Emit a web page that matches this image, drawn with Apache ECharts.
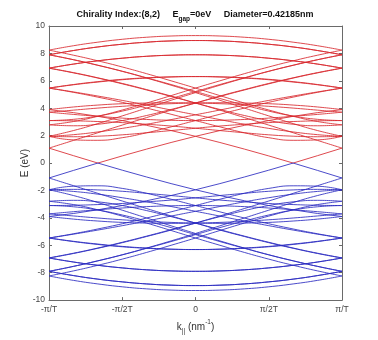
<!DOCTYPE html>
<html>
<head>
<meta charset="utf-8">
<script src="https://cdn.jsdelivr.net/npm/echarts@6/dist/echarts.min.js"></script>
<style>
  html, body { margin: 0; padding: 0; background: #fff; }
  #chart { width: 378px; height: 340px; }
</style>
</head>
<body>
<div id="chart"></div>
<script>
// Wave vector along the tube axis, in units of pi/T
const kValues = [-1, -0.8333, -0.6667, -0.5, -0.3333, -0.1667, 0, 0.1667, 0.3333, 0.5, 0.6667, 0.8333, 1];
const kTickValues = [-1, -0.5, 0, 0.5, 1];
const kTickNames = ['-π/T', '-π/2T', '0', 'π/2T', 'π/T'];

// Conduction subbands (eV), one per cutting line mu = 0..27
const cb0  = [8.24, 8.56, 8.82, 9.03, 9.18, 9.27, 9.30, 9.27, 9.18, 9.03, 8.82, 8.56, 8.24];
const cb1  = [7.90, 8.21, 8.47, 8.67, 8.82, 8.91, 8.94, 8.91, 8.82, 8.67, 8.47, 8.21, 7.90];
const cb2  = [6.92, 7.22, 7.46, 7.65, 7.79, 7.87, 7.90, 7.87, 7.79, 7.65, 7.46, 7.22, 6.93];
const cb3  = [5.47, 5.73, 5.94, 6.11, 6.22, 6.29, 6.31, 6.28, 6.20, 6.08, 5.91, 5.71, 5.47];
const cb4  = [3.90, 4.09, 4.23, 4.33, 4.38, 4.40, 4.38, 4.33, 4.25, 4.14, 4.01, 3.86, 3.71];
const cb5  = [3.10, 3.08, 3.03, 2.95, 2.83, 2.70, 2.54, 2.37, 2.21, 2.06, 1.96, 1.92, 1.95];
const cb6  = [3.90, 3.68, 3.41, 3.10, 2.75, 2.37, 1.95, 1.50, 1.02, 0.52, 0.00, 0.54, 1.09];
const cb7  = [5.47, 5.16, 4.81, 4.43, 4.01, 3.56, 3.10, 2.64, 2.21, 1.85, 1.66, 1.69, 1.95];
const cb8  = [6.92, 6.58, 6.20, 5.78, 5.33, 4.86, 4.38, 3.91, 3.47, 3.10, 2.83, 2.72, 2.79];
const cb9  = [7.90, 7.54, 7.14, 6.70, 6.22, 5.73, 5.22, 4.71, 4.23, 3.79, 3.43, 3.19, 3.10];
const cb10 = [8.24, 7.87, 7.46, 7.01, 6.52, 6.00, 5.47, 4.92, 4.38, 3.87, 3.41, 3.03, 2.79];
const cb11 = [7.90, 7.54, 7.13, 6.69, 6.20, 5.68, 5.14, 4.58, 4.01, 3.44, 2.88, 2.37, 1.95];
const cb12 = [6.93, 6.60, 6.22, 5.81, 5.36, 4.89, 4.38, 3.86, 3.32, 2.77, 2.21, 1.65, 1.09];
const cb13 = [5.47, 5.19, 4.89, 4.57, 4.23, 3.87, 3.52, 3.17, 2.83, 2.53, 2.27, 2.07, 1.95];
const cb14 = [3.71, 3.55, 3.41, 3.28, 3.18, 3.12, 3.10, 3.12, 3.18, 3.28, 3.41, 3.55, 3.71];
const cb15 = [1.95, 2.07, 2.27, 2.53, 2.83, 3.17, 3.52, 3.87, 4.23, 4.57, 4.89, 5.19, 5.47];
const cb16 = [1.09, 1.65, 2.21, 2.77, 3.32, 3.86, 4.38, 4.89, 5.36, 5.81, 6.22, 6.60, 6.93];
const cb17 = [1.95, 2.37, 2.88, 3.44, 4.01, 4.58, 5.14, 5.68, 6.20, 6.69, 7.13, 7.54, 7.90];
const cb18 = [2.79, 3.03, 3.41, 3.87, 4.38, 4.92, 5.47, 6.00, 6.52, 7.01, 7.46, 7.87, 8.24];
const cb19 = [3.10, 3.19, 3.43, 3.79, 4.23, 4.71, 5.22, 5.73, 6.22, 6.70, 7.14, 7.54, 7.90];
const cb20 = [2.79, 2.72, 2.83, 3.10, 3.47, 3.91, 4.38, 4.86, 5.33, 5.78, 6.20, 6.58, 6.92];
const cb21 = [1.95, 1.69, 1.66, 1.85, 2.21, 2.64, 3.10, 3.56, 4.01, 4.43, 4.81, 5.16, 5.47];
const cb22 = [1.09, 0.54, 0.00, 0.52, 1.02, 1.50, 1.95, 2.37, 2.75, 3.10, 3.41, 3.68, 3.90];
const cb23 = [1.95, 1.92, 1.96, 2.06, 2.21, 2.37, 2.54, 2.70, 2.83, 2.95, 3.03, 3.08, 3.10];
const cb24 = [3.71, 3.86, 4.01, 4.14, 4.25, 4.33, 4.38, 4.40, 4.38, 4.33, 4.23, 4.09, 3.90];
const cb25 = [5.47, 5.71, 5.91, 6.08, 6.20, 6.28, 6.31, 6.29, 6.22, 6.11, 5.94, 5.73, 5.47];
const cb26 = [6.93, 7.22, 7.46, 7.65, 7.79, 7.87, 7.90, 7.87, 7.79, 7.65, 7.46, 7.22, 6.92];
const cb27 = [7.90, 8.21, 8.47, 8.67, 8.82, 8.91, 8.94, 8.91, 8.82, 8.67, 8.47, 8.21, 7.90];

// Valence subbands (eV)
const vb0  = [-8.24, -8.56, -8.82, -9.03, -9.18, -9.27, -9.30, -9.27, -9.18, -9.03, -8.82, -8.56, -8.24];
const vb1  = [-7.90, -8.21, -8.47, -8.67, -8.82, -8.91, -8.94, -8.91, -8.82, -8.67, -8.47, -8.21, -7.90];
const vb2  = [-6.92, -7.22, -7.46, -7.65, -7.79, -7.87, -7.90, -7.87, -7.79, -7.65, -7.46, -7.22, -6.93];
const vb3  = [-5.47, -5.73, -5.94, -6.11, -6.22, -6.29, -6.31, -6.28, -6.20, -6.08, -5.91, -5.71, -5.47];
const vb4  = [-3.90, -4.09, -4.23, -4.33, -4.38, -4.40, -4.38, -4.33, -4.25, -4.14, -4.01, -3.86, -3.71];
const vb5  = [-3.10, -3.08, -3.03, -2.95, -2.83, -2.70, -2.54, -2.37, -2.21, -2.06, -1.96, -1.92, -1.95];
const vb6  = [-3.90, -3.68, -3.41, -3.10, -2.75, -2.37, -1.95, -1.50, -1.02, -0.52, 0.00, -0.54, -1.09];
const vb7  = [-5.47, -5.16, -4.81, -4.43, -4.01, -3.56, -3.10, -2.64, -2.21, -1.85, -1.66, -1.69, -1.95];
const vb8  = [-6.92, -6.58, -6.20, -5.78, -5.33, -4.86, -4.38, -3.91, -3.47, -3.10, -2.83, -2.72, -2.79];
const vb9  = [-7.90, -7.54, -7.14, -6.70, -6.22, -5.73, -5.22, -4.71, -4.23, -3.79, -3.43, -3.19, -3.10];
const vb10 = [-8.24, -7.87, -7.46, -7.01, -6.52, -6.00, -5.47, -4.92, -4.38, -3.87, -3.41, -3.03, -2.79];
const vb11 = [-7.90, -7.54, -7.13, -6.69, -6.20, -5.68, -5.14, -4.58, -4.01, -3.44, -2.88, -2.37, -1.95];
const vb12 = [-6.93, -6.60, -6.22, -5.81, -5.36, -4.89, -4.38, -3.86, -3.32, -2.77, -2.21, -1.65, -1.09];
const vb13 = [-5.47, -5.19, -4.89, -4.57, -4.23, -3.87, -3.52, -3.17, -2.83, -2.53, -2.27, -2.07, -1.95];
const vb14 = [-3.71, -3.55, -3.41, -3.28, -3.18, -3.12, -3.10, -3.12, -3.18, -3.28, -3.41, -3.55, -3.71];
const vb15 = [-1.95, -2.07, -2.27, -2.53, -2.83, -3.17, -3.52, -3.87, -4.23, -4.57, -4.89, -5.19, -5.47];
const vb16 = [-1.09, -1.65, -2.21, -2.77, -3.32, -3.86, -4.38, -4.89, -5.36, -5.81, -6.22, -6.60, -6.93];
const vb17 = [-1.95, -2.37, -2.88, -3.44, -4.01, -4.58, -5.14, -5.68, -6.20, -6.69, -7.13, -7.54, -7.90];
const vb18 = [-2.79, -3.03, -3.41, -3.87, -4.38, -4.92, -5.47, -6.00, -6.52, -7.01, -7.46, -7.87, -8.24];
const vb19 = [-3.10, -3.19, -3.43, -3.79, -4.23, -4.71, -5.22, -5.73, -6.22, -6.70, -7.14, -7.54, -7.90];
const vb20 = [-2.79, -2.72, -2.83, -3.10, -3.47, -3.91, -4.38, -4.86, -5.33, -5.78, -6.20, -6.58, -6.92];
const vb21 = [-1.95, -1.69, -1.66, -1.85, -2.21, -2.64, -3.10, -3.56, -4.01, -4.43, -4.81, -5.16, -5.47];
const vb22 = [-1.09, -0.54, 0.00, -0.52, -1.02, -1.50, -1.95, -2.37, -2.75, -3.10, -3.41, -3.68, -3.90];
const vb23 = [-1.95, -1.92, -1.96, -2.06, -2.21, -2.37, -2.54, -2.70, -2.83, -2.95, -3.03, -3.08, -3.10];
const vb24 = [-3.71, -3.86, -4.01, -4.14, -4.25, -4.33, -4.38, -4.40, -4.38, -4.33, -4.23, -4.09, -3.90];
const vb25 = [-5.47, -5.71, -5.91, -6.08, -6.20, -6.28, -6.31, -6.29, -6.22, -6.11, -5.94, -5.73, -5.47];
const vb26 = [-6.93, -7.22, -7.46, -7.65, -7.79, -7.87, -7.90, -7.87, -7.79, -7.65, -7.46, -7.22, -6.92];
const vb27 = [-7.90, -8.21, -8.47, -8.67, -8.82, -8.91, -8.94, -8.91, -8.82, -8.67, -8.47, -8.21, -7.90];

const conductionBands = [cb0, cb1, cb2, cb3, cb4, cb5, cb6, cb7, cb8, cb9, cb10, cb11, cb12, cb13,
  cb14, cb15, cb16, cb17, cb18, cb19, cb20, cb21, cb22, cb23, cb24, cb25, cb26, cb27];
const valenceBands = [vb0, vb1, vb2, vb3, vb4, vb5, vb6, vb7, vb8, vb9, vb10, vb11, vb12, vb13,
  vb14, vb15, vb16, vb17, vb18, vb19, vb20, vb21, vb22, vb23, vb24, vb25, vb26, vb27];

const FONT = '"Liberation Sans", Arial, Helvetica, sans-serif';
const RED = '#d8282e';
const BLUE = '#2a2ac0';

function bandSeries(band, color) {
  // bands touching E = 0 have a linear crossing, keep them as straight segments
  const crossesZero = band.some(v => v === 0);
  return {
    type: 'line',
    xAxisIndex: 0,
    yAxisIndex: 0,
    data: kValues.map((k, i) => [k, band[i]]),
    showSymbol: false,
    symbol: 'none',
    smooth: crossesZero ? false : 0.5,
    silent: true,
    lineStyle: { color: color, width: 0.85 },
    z: 2
  };
}

const series = [];
conductionBands.forEach(b => series.push(bandSeries(b, RED)));
valenceBands.forEach(b => series.push(bandSeries(b, BLUE)));

const kLabel = v => {
  const i = kTickValues.findIndex(t => Math.abs(t - v) < 1e-6);
  return i >= 0 ? kTickNames[i] : '';
};

const axisLineStyle = { color: '#6a6a6a', width: 1 };
const tickStyle = { show: true, inside: true, length: 3, lineStyle: { color: '#6a6a6a', width: 1 } };

const chart = echarts.init(document.getElementById('chart'), null, { renderer: 'canvas' });
chart.setOption({
  animation: false,
  backgroundColor: '#ffffff',
  grid: { left: 49, top: 26, right: 36, bottom: 38, containLabel: false },
  xAxis: [
    {
      type: 'value', min: -1, max: 1, interval: 0.5, position: 'bottom',
      axisLine: { show: true, onZero: false, lineStyle: axisLineStyle },
      axisTick: tickStyle,
      splitLine: { show: false },
      axisLabel: { formatter: kLabel, color: '#444', fontSize: 8.5, fontFamily: FONT, margin: 5 },
      name: '{n|k}{s|||}{n| (nm}{p|-1}{n|)}',
      nameLocation: 'middle',
      nameGap: 18,
      nameTextStyle: {
        rich: {
          n: { fontSize: 10, fontFamily: FONT, color: '#333', lineHeight: 16, verticalAlign: 'middle' },
          s: { fontSize: 6.5, fontFamily: FONT, color: '#333', lineHeight: 16, verticalAlign: 'bottom' },
          p: { fontSize: 6.5, fontFamily: FONT, color: '#333', lineHeight: 16, verticalAlign: 'top' }
        }
      }
    },
    {
      type: 'value', min: -1, max: 1, interval: 0.5, position: 'top',
      axisLine: { show: true, onZero: false, lineStyle: axisLineStyle },
      axisTick: tickStyle,
      splitLine: { show: false },
      axisLabel: { show: false }
    }
  ],
  yAxis: [
    {
      type: 'value', min: -10, max: 10, interval: 2, position: 'left',
      axisLine: { show: true, onZero: false, lineStyle: axisLineStyle },
      axisTick: tickStyle,
      splitLine: { show: false },
      axisLabel: { color: '#444', fontSize: 8.5, fontFamily: FONT, margin: 4 },
      name: 'E (eV)',
      nameLocation: 'middle',
      nameGap: 19,
      nameMoveOverlap: false,
      nameRotate: 90,
      nameTextStyle: { fontSize: 10, fontFamily: FONT, color: '#333' }
    },
    {
      type: 'value', min: -10, max: 10, interval: 2, position: 'right',
      axisLine: { show: true, onZero: false, lineStyle: axisLineStyle },
      axisTick: tickStyle,
      splitLine: { show: false },
      axisLabel: { show: false }
    }
  ],
  graphic: [
    {
      type: 'text',
      x: 195, y: 15,
      style: {
        text: '{b|Chirality Index:(8,2)     E}{s|gap}{b|=0eV     Diameter=0.42185nm}',
        align: 'center',
        verticalAlign: 'middle',
        rich: {
          b: { fontSize: 9, fontWeight: 'bold', fontFamily: FONT, fill: '#111', lineHeight: 15, verticalAlign: 'middle' },
          s: { fontSize: 6.5, fontWeight: 'bold', fontFamily: FONT, fill: '#111', lineHeight: 15, verticalAlign: 'bottom' }
        }
      }
    }
  ],
  series: series
});
</script>
</body>
</html>
